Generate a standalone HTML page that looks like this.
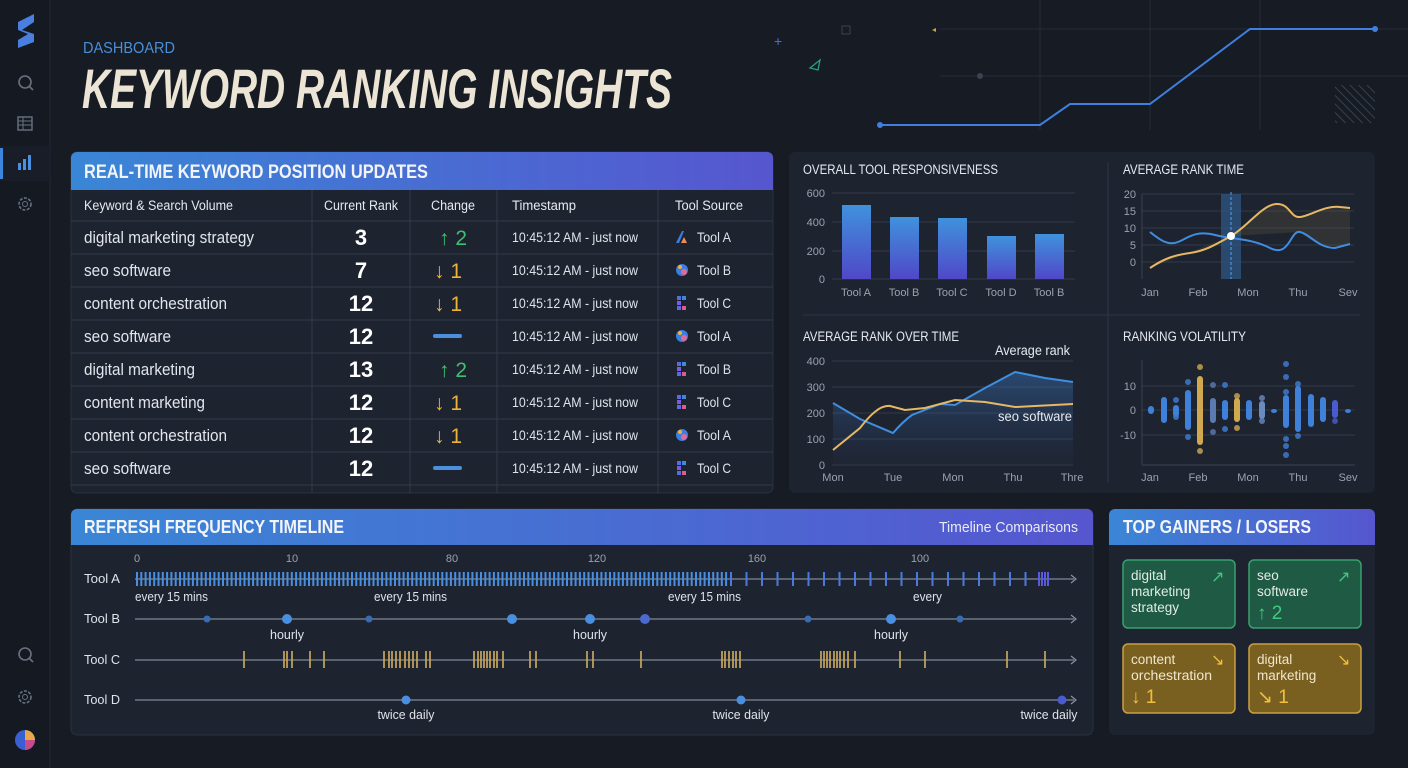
<!DOCTYPE html>
<html><head><meta charset="utf-8"><style>
html,body{margin:0;padding:0;background:#161b24;width:1408px;height:768px;overflow:hidden}
svg{display:block}
text{font-family:"Liberation Sans",sans-serif}
</style></head><body>
<svg id="s" width="1408" height="768" viewBox="0 0 1408 768" xmlns="http://www.w3.org/2000/svg">
<defs>
<linearGradient id="hg" x1="0" x2="1" y1="0" y2="0"><stop offset="0" stop-color="#3a86d6"/><stop offset="1" stop-color="#5656cf"/></linearGradient>
<linearGradient id="bar" x1="0" x2="0" y1="0" y2="1"><stop offset="0" stop-color="#3f92dc"/><stop offset="1" stop-color="#5048c8"/></linearGradient>
<linearGradient id="af" x1="0" x2="0" y1="0" y2="1"><stop offset="0" stop-color="#3a78c0" stop-opacity="0.45"/><stop offset="1" stop-color="#2a4a78" stop-opacity="0.05"/></linearGradient>
<pattern id="hatch" width="6" height="6" patternUnits="userSpaceOnUse" patternTransform="rotate(-45)"><line x1="0" y1="0" x2="0" y2="6" stroke="#3a4250" stroke-width="2"/></pattern>
</defs>
<rect width="1408" height="768" fill="#161b24"/>
<!-- sidebar -->
<rect x="0" y="0" width="50" height="768" fill="#141922"/>
<line x1="50" y1="0" x2="50" y2="768" stroke="#232a36"/>
<path d="M18 22 L34 14 L34 22 L22 30 L34 34 L34 42 L18 48 L18 40 L28 34 L18 30Z" fill="#4a7fe0"/>
<circle cx="25" cy="82" r="6" fill="none" stroke="#6a7280" stroke-width="1.6"/><line x1="29" y1="86" x2="33" y2="90" stroke="#6a7280" stroke-width="1.6"/>
<rect x="18" y="117" width="14" height="13" fill="none" stroke="#6a7280" stroke-width="1.4"/><line x1="18" y1="121" x2="32" y2="121" stroke="#6a7280"/><line x1="18" y1="125" x2="32" y2="125" stroke="#6a7280"/><line x1="23" y1="117" x2="23" y2="130" stroke="#6a7280"/>
<rect x="0" y="146" width="50" height="35" fill="#1a202b" opacity=".6"/>
<rect x="0" y="148" width="3" height="31" fill="#3d86de"/>
<g fill="#4a8fe0"><rect x="18" y="163" width="3" height="7"/><rect x="23" y="159" width="3" height="11"/><rect x="28" y="155" width="3" height="15"/></g>
<circle cx="25" cy="204" r="6" fill="none" stroke="#6a7280" stroke-width="1.6" stroke-dasharray="3 1.5"/><circle cx="25" cy="204" r="2.5" fill="none" stroke="#6a7280"/>
<circle cx="25" cy="654" r="6" fill="none" stroke="#6a7280" stroke-width="1.6"/><line x1="29" y1="658" x2="33" y2="662" stroke="#6a7280" stroke-width="1.6"/>
<circle cx="25" cy="697" r="6" fill="none" stroke="#6a7280" stroke-width="1.6" stroke-dasharray="3 1.5"/><circle cx="25" cy="697" r="2.5" fill="none" stroke="#6a7280"/>
<circle cx="25" cy="740" r="10" fill="#3a5fd0"/><path d="M25 730 A10 10 0 0 1 35 740 L25 740Z" fill="#e8a84a"/><path d="M25 740 L35 740 A10 10 0 0 1 25 750Z" fill="#c84a8a"/>
<!-- header -->
<text x="83" y="53" font-size="16" fill="#4a8fd8" textLength="92" lengthAdjust="spacingAndGlyphs">DASHBOARD</text>
<text x="82" y="108" font-size="56" font-weight="bold" font-style="italic" fill="#ece4d4" textLength="590" lengthAdjust="spacingAndGlyphs">KEYWORD RANKING INSIGHTS</text>
<!-- decorative -->
<g stroke="#262e3a" stroke-width="1" fill="none">
<line x1="1040" y1="0" x2="1040" y2="130"/><line x1="1150" y1="0" x2="1150" y2="130"/><line x1="1260" y1="0" x2="1260" y2="130"/>
<line x1="940" y1="29" x2="1408" y2="29"/><line x1="940" y1="76" x2="1408" y2="76"/>
</g>
<rect x="1335" y="85" width="40" height="38" fill="url(#hatch)"/>
<polyline points="880,125 1040,125 1070,104 1150,104 1250,29 1375,29" fill="none" stroke="#3f7fe0" stroke-width="2"/>
<circle cx="880" cy="125" r="3" fill="#3f7fe0"/><circle cx="1375" cy="29" r="3" fill="#3f7fe0"/><circle cx="980" cy="76" r="3" fill="#3a4250"/>
<text x="774" y="46" font-size="14" fill="#4a6ed0">+</text>
<rect x="842" y="26" width="8" height="8" fill="none" stroke="#3a4250"/>
<path d="M810 68 L820 60 L818 70Z" fill="none" stroke="#2aa080" stroke-width="1.3"/>
<path d="M932 30 L936 28 L936 32Z" fill="#d0a040"/>
<!-- table panel -->
<rect x="71" y="152" width="702" height="341" rx="6" fill="#1e2330" stroke="#2a3140"/>
<path d="M71 190 V158 a6 6 0 0 1 6 -6 H767 a6 6 0 0 1 6 6 V190Z" fill="url(#hg)"/>
<text x="84" y="178" font-size="19" font-weight="bold" fill="#f2f4f8" textLength="344" lengthAdjust="spacingAndGlyphs">REAL-TIME KEYWORD POSITION UPDATES</text>
<g id="tbl"></g>
<!-- charts panel -->
<rect x="789" y="152" width="586" height="341" rx="6" fill="#1e2330"/>
<line x1="1108" y1="162" x2="1108" y2="483" stroke="#2e3543"/>
<line x1="803" y1="315" x2="1360" y2="315" stroke="#2e3543"/>
<g id="charts"></g>
<!-- timeline -->
<rect x="71" y="509" width="1022" height="226" rx="6" fill="#1e2330" stroke="#2a3140"/>
<path d="M71 545 V515 a6 6 0 0 1 6 -6 H1087 a6 6 0 0 1 6 6 V545Z" fill="url(#hg)"/>
<text x="84" y="533" font-size="18" font-weight="bold" fill="#f2f4f8" textLength="260" lengthAdjust="spacingAndGlyphs">REFRESH FREQUENCY TIMELINE</text>
<text x="939" y="532" font-size="15" fill="#e8ecf4" textLength="139" lengthAdjust="spacingAndGlyphs">Timeline Comparisons</text>
<g id="tl"></g>
<!-- gainers -->
<rect x="1109" y="509" width="266" height="226" rx="6" fill="#1e2330"/>
<path d="M1109 545 V515 a6 6 0 0 1 6 -6 H1369 a6 6 0 0 1 6 6 V545Z" fill="url(#hg)"/>
<text x="1123" y="533" font-size="18" font-weight="bold" fill="#f2f4f8" textLength="188" lengthAdjust="spacingAndGlyphs">TOP GAINERS / LOSERS</text>
<g font-size="13.5">
<rect x="1123" y="560" width="112" height="68" rx="5" fill="#1f5a45" stroke="#3aa070" stroke-width="1.5"/>
<text x="1131" y="580" fill="#e0ece6">digital</text><text x="1131" y="596" fill="#e0ece6">marketing</text><text x="1131" y="612" fill="#e0ece6">strategy</text>
<text x="1211" y="582" fill="#45c880" font-size="16">↗</text>
<rect x="1249" y="560" width="112" height="68" rx="5" fill="#1f5a45" stroke="#3aa070" stroke-width="1.5"/>
<text x="1257" y="580" fill="#e0ece6">seo</text><text x="1257" y="596" fill="#e0ece6">software</text>
<text x="1257" y="619" fill="#45c880" font-size="19">↑ 2</text>
<text x="1337" y="582" fill="#45c880" font-size="16">↗</text>
<rect x="1123" y="644" width="112" height="69" rx="5" fill="#7a6020" stroke="#c8a040" stroke-width="1.5"/>
<text x="1131" y="664" fill="#f0e6cc">content</text><text x="1131" y="680" fill="#f0e6cc" textLength="81" lengthAdjust="spacingAndGlyphs">orchestration</text>
<text x="1131" y="703" fill="#f0c040" font-size="19">↓ 1</text>
<text x="1211" y="665" fill="#f0c040" font-size="16">↘</text>
<rect x="1249" y="644" width="112" height="69" rx="5" fill="#7a6020" stroke="#c8a040" stroke-width="1.5"/>
<text x="1257" y="664" fill="#f0e6cc">digital</text><text x="1257" y="680" fill="#f0e6cc">marketing</text>
<text x="1257" y="703" fill="#f0c040" font-size="19">↘ 1</text>
<text x="1337" y="665" fill="#f0c040" font-size="16">↘</text>
</g>
</svg>
<script>
const NS="http://www.w3.org/2000/svg";
function el(p,t,a,txt){const e=document.createElementNS(NS,t);for(const k in a)e.setAttribute(k,a[k]);if(txt!=null)e.textContent=txt;p.appendChild(e);return e;}
// table
const T=document.getElementById('tbl');
[312,410,497,658].forEach(x=>el(T,'line',{x1:x,y1:190,x2:x,y2:493,stroke:'#323a49'}));
for(let i=0;i<9;i++){const y=221+i*33;el(T,'line',{x1:71,y1:y,x2:773,y2:y,stroke:'#323a49'});}
const hs=[[84,'Keyword & Search Volume',149],[324,'Current Rank',74],[431,'Change',44],[512,'Timestamp',64],[675,'Tool Source',68]];
hs.forEach(h=>el(T,'text',{x:h[0],y:210,'font-size':13.5,fill:'#e6e9ef',textLength:h[2],lengthAdjust:'spacingAndGlyphs'},h[1]));
const rows=[['digital marketing strategy','3','u2','A','a',170],['seo software','7','d1','B','b',87],['content orchestration','12','d1','C','c',143],['seo software','12','n','A','b',87],['digital marketing','13','u2','B','c',111],['content marketing','12','d1','C','c',121],['content orchestration','12','d1','A','b',143],['seo software','12','n','C','c',87]];
rows.forEach((r,i)=>{const cy=237+i*33;
el(T,'text',{x:84,y:cy+6,'font-size':16.5,fill:'#e2e5ec',textLength:r[5],lengthAdjust:'spacingAndGlyphs'},r[0]);
el(T,'text',{x:361,y:cy+8,'font-size':22,'font-weight':'bold',fill:'#fff','text-anchor':'middle'},r[1]);
if(r[2]=='u2')el(T,'text',{x:453,y:cy+8,'font-size':21,fill:'#3cc070','text-anchor':'middle'},'↑ 2');
else if(r[2]=='d1')el(T,'text',{x:448,y:cy+8,'font-size':21,fill:'#eeb43a','text-anchor':'middle'},'↓ 1');
else el(T,'rect',{x:433,y:cy-2,width:29,height:4,rx:2,fill:'#4a90dc'});
el(T,'text',{x:512,y:cy+5,'font-size':14,fill:'#dfe3ea',textLength:126,lengthAdjust:'spacingAndGlyphs'},'10:45:12 AM - just now');
const ix=676;
if(r[4]=='a'){el(T,'path',{d:`M${ix} ${cy+6} L${ix+6} ${cy-6} L${ix+8} ${cy-6} L${ix+3} ${cy+6}Z`,fill:'#3a7fe0'});el(T,'path',{d:`M${ix+5} ${cy+6} L${ix+8} ${cy} L${ix+11} ${cy+6}Z`,fill:'#f08a5a'});}
else if(r[4]=='b'){el(T,'circle',{cx:ix+6,cy:cy,r:6,fill:'#3a7fe0'});el(T,'circle',{cx:ix+8,cy:cy+2,r:3,fill:'#e06a9a'});el(T,'circle',{cx:ix+4,cy:cy-3,r:2,fill:'#f0b040'});}
else{[[0,-5,'#5a6ae0'],[0,0,'#7a5ae0'],[0,5,'#5a6ae0'],[5,-5,'#3a8ae0'],[5,5,'#e05a8a']].forEach(q=>el(T,'rect',{x:ix+q[0]+1,y:cy+q[1]-2,width:4,height:4,fill:q[2]}));}
el(T,'text',{x:697,y:cy+5,'font-size':14,fill:'#dfe3ea',textLength:34,lengthAdjust:'spacingAndGlyphs'},'Tool '+r[3]);
});
// charts
const C=document.getElementById('charts');
const tt=(x,y,s,w)=>el(C,'text',{x:x,y:y,'font-size':13.5,fill:'#e6e9ef',textLength:w,lengthAdjust:'spacingAndGlyphs'},s);
const lab=(x,y,s,a)=>el(C,'text',{x:x,y:y,'font-size':11,fill:'#9aa2b0','text-anchor':a||'middle'},s);
tt(803,174,'OVERALL TOOL RESPONSIVENESS',195);tt(1123,174,'AVERAGE RANK TIME',121);tt(803,341,'AVERAGE RANK OVER TIME',156);tt(1123,341,'RANKING VOLATILITY',123);
// chart1
[[600,193],[400,222],[200,251],[0,279]].forEach(v=>{el(C,'line',{x1:832,y1:v[1],x2:1075,y2:v[1],stroke:'#323a49'});lab(825,v[1]+4,v[0],'end');});
[[842,205,'Tool A'],[890,217,'Tool B'],[938,218,'Tool C'],[987,236,'Tool D'],[1035,234,'Tool B']].forEach(b=>{el(C,'rect',{x:b[0],y:b[1],width:29,height:279-b[1],fill:'url(#bar)'});lab(b[0]+14,296,b[2]);});
// chart2
[20,15,10,5,0].forEach((v,i)=>{const y=194+i*17;el(C,'line',{x1:1142,y1:y,x2:1354,y2:y,stroke:'#323a49'});lab(1136,y+4,v,'end');});
el(C,'line',{x1:1142,y1:194,x2:1142,y2:279,stroke:'#3a4252'});
el(C,'rect',{x:1221,y:194,width:20,height:85,fill:'#2d5a8a',opacity:.7});
const yl="M1150 268 C1165 258,1175 255,1190 253 S1215 245,1231 236 S1262 205,1276 204 S1290 218,1300 217 S1325 205,1340 207 L1350 208";
const bl="M1150 232 C1160 240,1168 246,1178 242 S1195 230,1215 235 S1250 238,1270 248 S1290 230,1300 232 S1318 248,1335 248 L1350 244";
el(C,'path',{d:yl+" L1350 244 C1335 248,1318 248,1300 232 L1231 236Z",fill:'#6a6040',opacity:.25});
el(C,'path',{d:bl,fill:'none',stroke:'#3f8ee0','stroke-width':2});
el(C,'path',{d:yl,fill:'none',stroke:'#e6b864','stroke-width':2});
el(C,'line',{x1:1231,y1:192,x2:1231,y2:279,stroke:'#5aa0f0','stroke-dasharray':'3 2'});
el(C,'circle',{cx:1231,cy:236,r:4,fill:'#fff'});
[['Jan',1150],['Feb',1198],['Mon',1248],['Thu',1298],['Sev',1348]].forEach(a=>{lab(a[1],296,a[0]);lab(a[1],481,a[0]);});
// chart3
[[400,361],[300,387],[200,413],[100,439],[0,465]].forEach(v=>{el(C,'line',{x1:832,y1:v[1],x2:1073,y2:v[1],stroke:'#323a49'});lab(825,v[1]+4,v[0],'end');});
const b3="M833 403 L860 419 L893 433 C900 425,905 420,912 415 L940 404 L955 405 L985 388 L1015 372 L1045 378 L1073 382";
el(C,'path',{d:b3+" L1073 465 L833 465Z",fill:'url(#af)'});
el(C,'path',{d:b3,fill:'none',stroke:'#3f8ee0','stroke-width':2});
el(C,'path',{d:"M833 450 L860 428 C870 415,880 405,890 406 L905 410 L925 408 L955 400 L985 402 L1015 407 L1073 404",fill:'none',stroke:'#e6b864','stroke-width':2});
el(C,'text',{x:995,y:355,'font-size':13.5,fill:'#e6e9ef',textLength:75,lengthAdjust:'spacingAndGlyphs'},'Average rank');
el(C,'text',{x:998,y:421,'font-size':13.5,fill:'#e6e9ef',textLength:74,lengthAdjust:'spacingAndGlyphs'},'seo software');
[['Mon',833],['Tue',893],['Mon',953],['Thu',1013],['Thre',1072]].forEach(a=>lab(a[1],481,a[0]));
// chart4
[[10,386],[0,410],[-10,435]].forEach(v=>{el(C,'line',{x1:1142,y1:v[1],x2:1355,y2:v[1],stroke:'#323a49'});lab(1136,v[1]+4,v[0],'end');});
el(C,'line',{x1:1142,y1:360,x2:1142,y2:465,stroke:'#3a4252'});el(C,'line',{x1:1142,y1:465,x2:1355,y2:465,stroke:'#3a4252'});
const vb=[[1151,406,414,'#3f80d8',[]],[1164,397,423,'#3f80d8',[]],[1176,405,417,'#3f80d8',[400,417]],[1188,390,430,'#3f80d8',[382,437]],[1200,376,445,'#d0a850',[367,451]],[1213,398,423,'#5a7ab0',[385,432]],[1225,400,420,'#3f80d8',[385,429]],[1237,398,422,'#d0a850',[396,428]],[1249,400,420,'#3f80d8',[]],[1262,401,419,'#6a8ac0',[398,421]],[1274,409,411,'#3f80d8',[]],[1286,395,428,'#3f80d8',[364,377,392,439,446,455]],[1298,386,432,'#3f80d8',[384,436]],[1311,394,427,'#3f80d8',[]],[1323,397,422,'#3f80d8',[]],[1335,400,418,'#4a5ad0',[421]],[1348,409,411,'#3f80d8',[]]];
vb.forEach(b=>{el(C,'rect',{x:b[0]-3,y:b[1],width:6,height:Math.max(4,b[2]-b[1]),rx:3,fill:b[3]});b[4].forEach(y=>el(C,'circle',{cx:b[0],cy:y,r:3,fill:b[3],opacity:.8}));});
// timeline
const L=document.getElementById('tl');
const tl=(x,y,s,a,f,w)=>{const o={x:x,y:y,'font-size':f||12.5,fill:'#dfe3ea','text-anchor':a||'middle'};if(w){o.textLength=w;o.lengthAdjust='spacingAndGlyphs';}return el(L,'text',o,s);};
[[137,'0'],[292,'10'],[452,'80'],[597,'120'],[757,'160'],[920,'100']].forEach(a=>el(L,'text',{x:a[0],y:562,'font-size':11,fill:'#9aa2b0','text-anchor':'middle'},a[1]));
[['Tool A',583],['Tool B',623],['Tool C',664],['Tool D',704]].forEach(a=>tl(84,a[1],a[0],'start',13,36));
[579,619,660,700].forEach(y=>{el(L,'line',{x1:135,y1:y,x2:1074,y2:y,stroke:'#5a6372','stroke-width':2});el(L,'path',{d:`M1071 ${y-4} L1076 ${y} L1071 ${y+4}`,fill:'none',stroke:'#8a93a2','stroke-width':1.2});});
for(let x=136;x<726;x+=4.3)el(L,'rect',{x:x,y:572,width:2,height:14,fill:'#4a8ee0'});
for(let x=730;x<1040;x+=15.5)el(L,'rect',{x:x,y:572,width:2,height:14,fill:'#4a7ae0'});
for(let x=1038;x<1050;x+=3)el(L,'rect',{x:x,y:572,width:2,height:14,fill:'#5a5ae0'});
[[135,'every 15 mins'],[374,'every 15 mins'],[668,'every 15 mins']].forEach(a=>tl(a[0],601,a[1],'start',12.5,73));
tl(913,601,'every','start',12.5,29);
[[207,3.5,'#3a6ab0'],[287,5,'#4a8ee0'],[369,3.5,'#3a6ab0'],[512,5,'#4a8ee0'],[590,5,'#4a8ee0'],[645,5,'#4a6ad0'],[808,3.5,'#3a6ab0'],[891,5,'#4a8ee0'],[960,3.5,'#3a6ab0']].forEach(d=>el(L,'circle',{cx:d[0],cy:619,r:d[1],fill:d[2]}));
[287,590,891].forEach(x=>tl(x,639,'hourly','middle',12.5,34));
[244,284,287,292,310,324,384,389,392,396,400,405,409,413,417,426,430,474,478,481,484,487,490,494,497,503,530,536,587,593,641,722,725,729,733,736,740,821,824,827,830,834,837,840,844,848,855,900,925,1007,1045].forEach(x=>el(L,'rect',{x:x-1,y:651,width:2,height:17,fill:'#c8a45a',opacity:.85}));
[406,741,1062].forEach(x=>{el(L,'circle',{cx:x,cy:700,r:4.5,fill:x>1000?'#4a5ad0':'#4a8ee0'});tl(x-(x>1000?13:0),719,'twice daily','middle',12.5,57);});
</script>
</body></html>
